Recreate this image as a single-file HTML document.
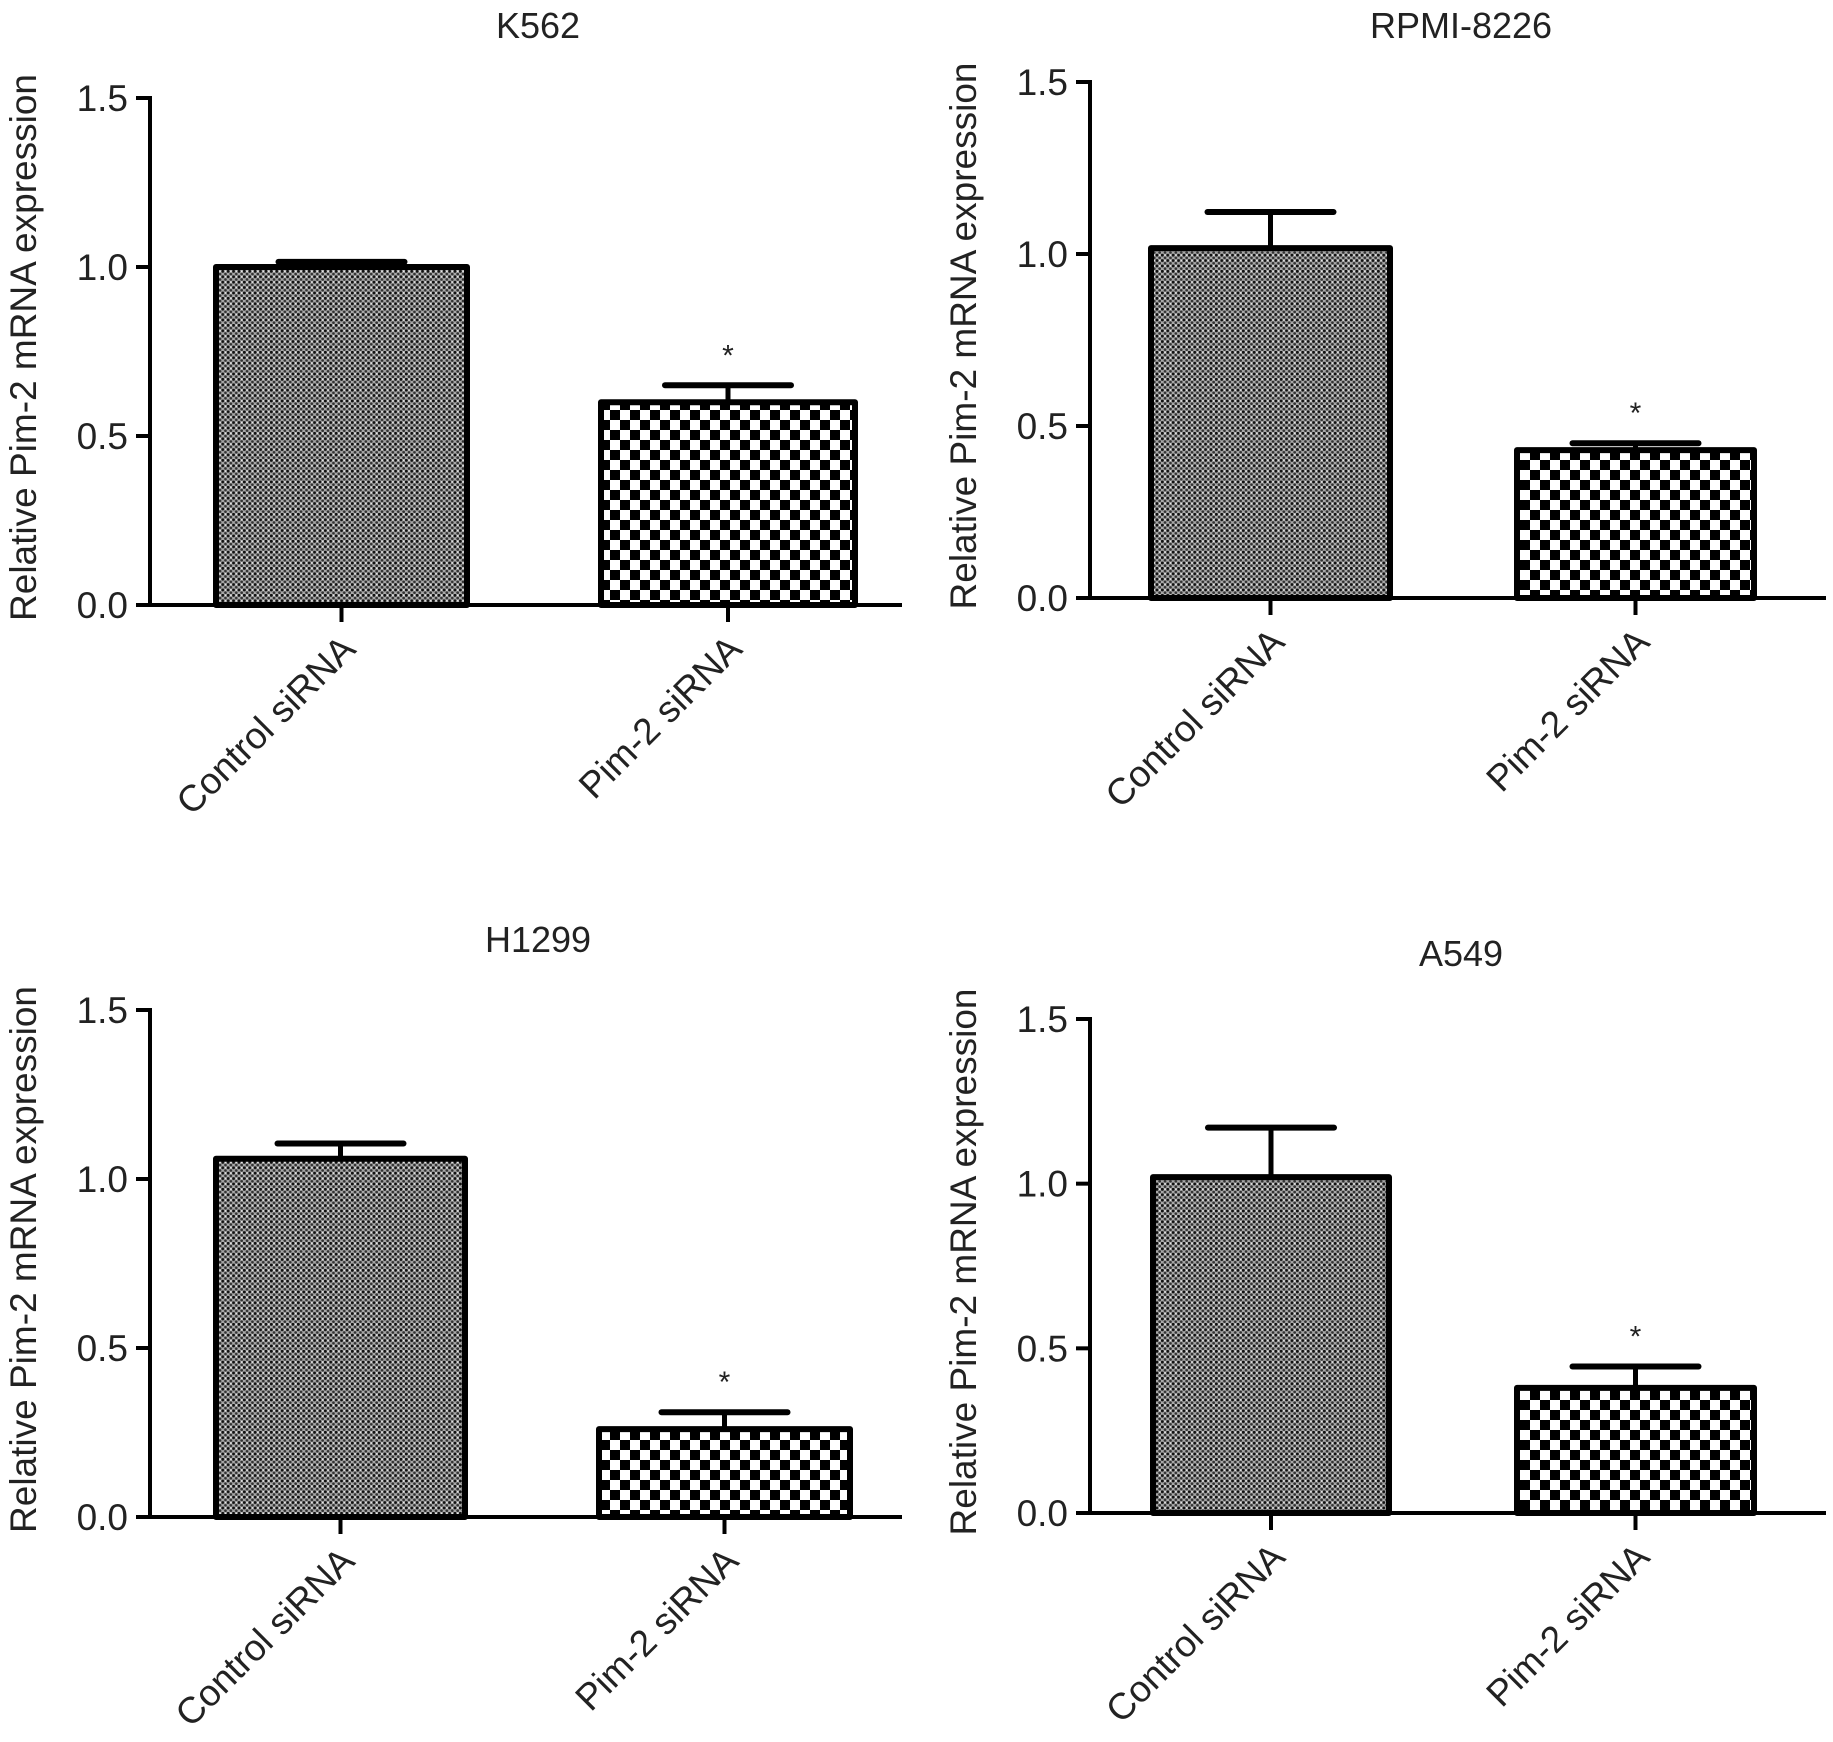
<!DOCTYPE html>
<html><head><meta charset="utf-8"><style>
html,body{margin:0;padding:0;background:#fff}
svg{display:block}
text{font-family:"Liberation Sans",Arial,sans-serif;fill:#222}
</style></head><body>
<svg id="chart" width="1833" height="1742" viewBox="0 0 1833 1742" xmlns="http://www.w3.org/2000/svg">
<defs>
<pattern id="fine" patternUnits="userSpaceOnUse" width="5.4" height="5.4">
<rect width="5.4" height="5.4" fill="#a8a8a8"/>
<circle cx="1.35" cy="1.35" r="1.5" fill="#111"/>
<circle cx="4.05" cy="4.05" r="1.4" fill="#333"/>
<circle cx="4.05" cy="1.35" r="0.8" fill="#eee"/>
</pattern>
<pattern id="checker" patternUnits="userSpaceOnUse" width="20" height="20">
<rect width="20" height="20" fill="#fff"/>
<rect width="10" height="10" fill="#000"/>
<rect x="10" y="10" width="10" height="10" fill="#000"/>
</pattern>
</defs>
</svg>
<script>
const panelTitles = ["K562","RPMI-8226","H1299","A549"];
const categories = ["Control siRNA","Pim-2 siRNA"];
const meanValues = [[1.0,0.60],[1.017,0.43],[1.06,0.26],[1.02,0.38]];
const errorValues = [[0.015,0.05],[0.105,0.02],[0.045,0.05],[0.15,0.065]];
const yTicks = [0.0,0.5,1.0,1.5];
const yTickLabels = ["0.0","0.5","1.0","1.5"];

const NS = "http://www.w3.org/2000/svg";
const svg = document.getElementById('chart');
function mk(tag, attrs, parent){
  const e = document.createElementNS(NS, tag);
  for (const k in attrs) e.setAttribute(k, attrs[k]);
  (parent||svg).appendChild(e);
  return e;
}
const layouts = [
  {ax:150, y0:605, y15:98, bx:[213,598], bw:[257,260], xend:902, tx:538, ty:38, lx:36},
  {ax:1090, y0:598, y15:82, bx:[1148,1514], bw:[245,243], xend:1826, tx:1461, ty:38, lx:976},
  {ax:150, y0:1517, y15:1010, bx:[213,596], bw:[255,257], xend:902, tx:538, ty:952, lx:36},
  {ax:1090, y0:1513, y15:1019, bx:[1150,1514], bw:[242,243], xend:1826, tx:1461, ty:966, lx:976}
];
layouts.forEach((L, p) => {
  const g = mk('g', {});
  
  
  const yS = v => L.y0 - (L.y0 - L.y15) * v / 1.5;
  const t = mk('text', {x:L.tx, y:L.ty, 'text-anchor':'middle', 'font-size':36}, g);
  t.textContent = panelTitles[p];
  
  
  const yl = mk('text', {x:0, y:0, 'text-anchor':'middle', 'font-size':37, transform:`translate(${L.lx},${(L.y0+L.y15)/2-4}) rotate(-90)`}, g);
  yl.textContent = 'Relative Pim-2 mRNA expression';
  
  
  categories.forEach((c, i) => {
    const v = meanValues[p][i], e = errorValues[p][i];
    const x = L.bx[i], w = L.bw[i], cx = x + w/2;
    const yt = yS(v);
    const cap = yS(v + e);
    const eg = mk('line', {x1:cx, x2:cx, y1:yt, y2:cap, stroke:'#000', 'stroke-width':5}, g);
    
    
    const cl = mk('line', {x1:cx-63, x2:cx+63, y1:cap, y2:cap, stroke:'#000', 'stroke-width':6, 'stroke-linecap':'round'}, g);
    
    
    const r = mk('rect', {x:x+3, y:yt, width:w-6, height:L.y0-yt, fill: i===0?'url(#fine)':'url(#checker)', stroke:'#000', 'stroke-width':6, 'stroke-linejoin':'round'}, g);
    
    
    if (i === 1) {
      const s = mk('text', {x:cx, y:cap-20, 'text-anchor':'middle', 'font-size':30}, g);
      s.textContent = '*';
      
      
    }
    const tk = mk('line', {x1:cx, x2:cx, y1:L.y0, y2:L.y0+17, stroke:'#000', 'stroke-width':4}, g);
    
    
    const lb = mk('text', {x:0, y:0, 'text-anchor':'end', 'font-size':37, transform:`translate(${cx+16},${L.y0+46}) rotate(-45)`}, g);
    lb.textContent = c;
    
    
  });
  const ya = mk('line', {x1:L.ax, x2:L.ax, y1:L.y15-2, y2:L.y0+2, stroke:'#000', 'stroke-width':4}, g);
  
  
  const xa = mk('line', {x1:L.ax-14, x2:L.xend, y1:L.y0, y2:L.y0, stroke:'#000', 'stroke-width':4}, g);
  
  
  yTicks.forEach((v, k) => {
    const y = yS(v);
    const tl = mk('line', {x1:L.ax-14, x2:L.ax, y1:y, y2:y, stroke:'#000', 'stroke-width':4}, g);
    
    
    const tt = mk('text', {x:L.ax-22, y:y+13, 'text-anchor':'end', 'font-size':37}, g);
    tt.textContent = yTickLabels[k];
    
    
  });
});
</script>
</body></html>
